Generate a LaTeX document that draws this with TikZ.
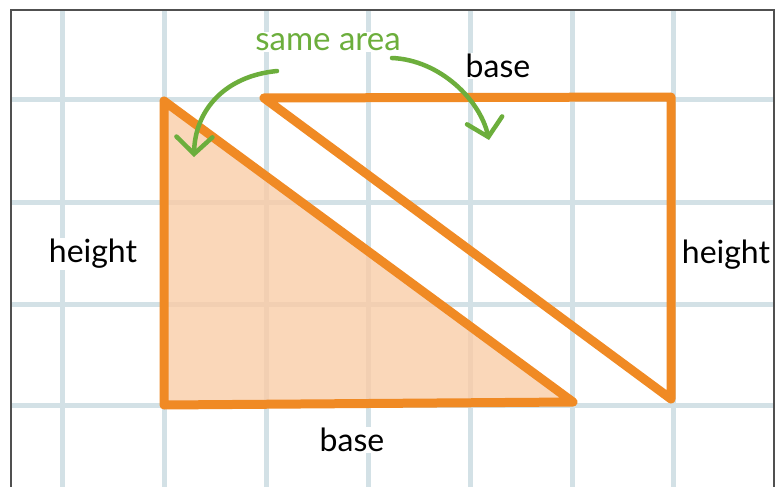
\documentclass[tikz,border=0pt]{standalone}
\usepackage{fontspec}
\setmainfont{Lato}
\usetikzlibrary{arrows.meta}
\definecolor{gridc}{RGB}{211,225,230}
\definecolor{orng}{RGB}{240,138,36}
\definecolor{peach}{RGB}{250,215,185}
\definecolor{peachgrid}{RGB}{242,207,178}
\definecolor{grn}{RGB}{108,174,60}
\definecolor{framec}{RGB}{80,80,80}
\tikzset{
  gridline/.style={draw=gridc, line width=5pt},
  shapeline/.style={draw=orng, line width=9pt, line join=round, line cap=round},
  lbl/.style={fill=white, inner sep=1pt, font=\fontsize{32}{36}\selectfont, text=black},
  greenlbl/.style={lbl, text=grn, font=\fontsize{33}{36}\selectfont},
  greenarrow/.style={draw=grn, line width=4.5pt, line cap=round,
    -{Straight Barb[length=17pt, width=36pt, line cap=round]}},
}
\begin{document}
\begin{tikzpicture}[x=1pt, y=-1pt]
\useasboundingbox (0,0) rectangle (780,487);
\fill[white] (0,0) rectangle (780,487);
% grid
\begin{scope}
\clip (12,11) rectangle (773,487);
\foreach \gx in {62,164,266,368,470,572,673} \draw[gridline] (\gx,0) -- (\gx,487);
\foreach \gy in {100,202,304,405} \draw[gridline] (0,\gy) -- (780,\gy);
\end{scope}
% shapes
\coordinate (A) at (164,101);
\coordinate (B) at (164,405);
\coordinate (C) at (573,402);
\coordinate (D) at (264,98);
\coordinate (E) at (671,97);
\coordinate (F) at (671,399);
\fill[peach] (A) -- (B) -- (C) -- cycle;
\begin{scope}
\clip (A) -- (B) -- (C) -- cycle;
\foreach \gx in {266,368,470} \draw[draw=peachgrid, line width=5pt] (\gx,0) -- (\gx,487);
\foreach \gy in {202,304} \draw[draw=peachgrid, line width=5pt] (0,\gy) -- (780,\gy);
\end{scope}
\draw[shapeline] (A) -- (B) -- (C) -- cycle;
\draw[shapeline] (D) -- (E) -- (F) -- cycle;
% labels
\node[greenlbl] (same) at (328,42) {same area};
\node[lbl] (hl) at (93,254) {height};
\node[lbl] (hr) at (726,255) {height};
\node[lbl] (bt) at (498,66) {base};
\node[lbl] (bb) at (352,440) {base};
% arrows
\coordinate (s1) at (277,71);
\coordinate (t1) at (194,157);
\coordinate (s2) at (392,58);
\coordinate (t2) at (489,140);
\draw[greenarrow] (s1) .. controls (225,76) and (195,110) .. (t1);
\draw[greenarrow] (s2) .. controls (440,60) and (480,100) .. (t2);
% frame
\draw[framec, line width=2pt] (11,487) -- (11,10) -- (774,10) -- (774,487);
\end{tikzpicture}
\end{document}
